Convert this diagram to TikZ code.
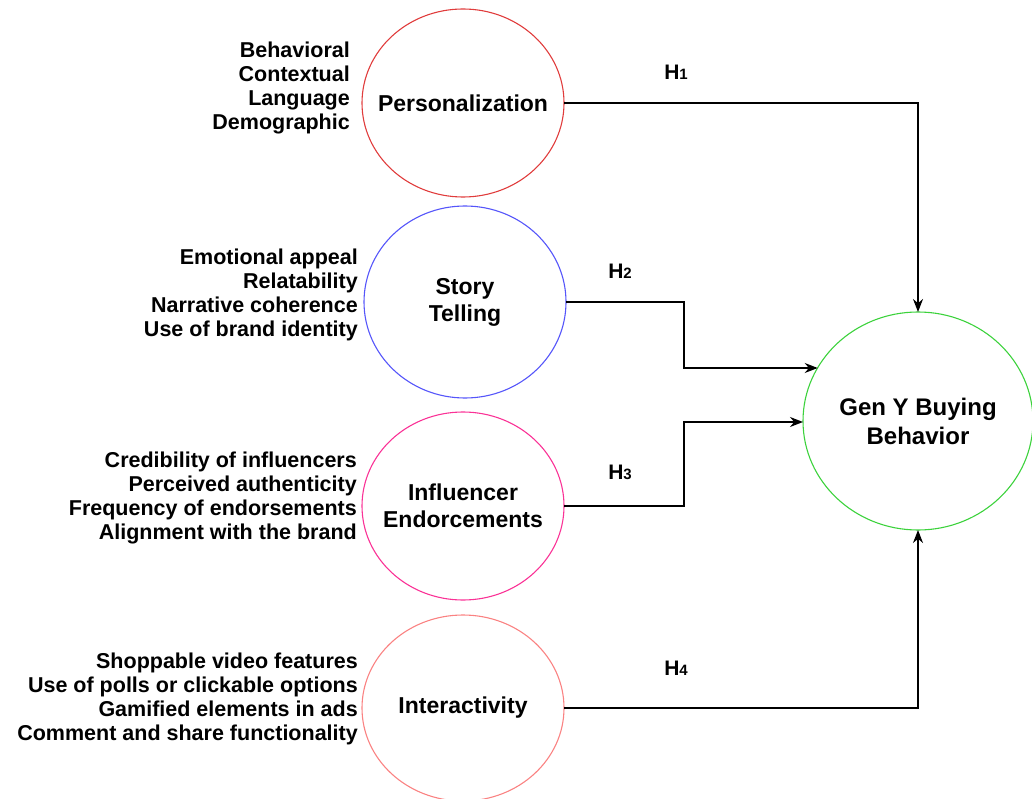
\documentclass[tikz,border=0pt]{standalone}
\usepackage{fontspec}
\setmainfont{Liberation Sans}
\definecolor{persred}{RGB}{224,60,60}
\definecolor{storyblue}{RGB}{85,85,250}
\definecolor{inflpink}{RGB}{250,50,150}
\definecolor{interpink}{RGB}{250,130,130}
\definecolor{gengreen}{RGB}{60,210,60}
\usetikzlibrary{shapes,arrows.meta,positioning,calc}

\begin{document}
\begin{tikzpicture}[x=1pt, y=-1pt,
    construct/.style={ellipse, draw, line width=1.1pt, inner xsep=-30pt, inner ysep=0pt, outer sep=0pt,
        minimum width=202pt, minimum height=188pt, align=center,
        font=\fontsize{23}{27}\selectfont\bfseries},
    items/.style={anchor=east, align=right, inner sep=0pt,
        font=\fontsize{21.5}{24}\selectfont\bfseries},
    hyp/.style={font=\fontsize{21}{21}\selectfont\bfseries},
    link/.style={line width=1.4pt, -{Stealth[length=13pt,width=10pt]}}]
    \useasboundingbox (0,0) rectangle (1032,799);

    % Constructs
    \node[construct, draw=persred] (pers) at (463,103) {Personalization};
    \node[construct, draw=storyblue, minimum height=192pt] (story) at (465,302) {Story\\Telling};
    \node[construct, draw=inflpink] (infl) at (463,506) {Influencer\\Endorcements};
    \node[construct, draw=interpink, minimum height=186pt] (inter) at (463,708) {Interactivity};

    % Outcome
    \node[construct, draw=gengreen, minimum width=230pt, minimum height=218pt,
        font=\fontsize{24}{29}\selectfont\bfseries] (geny) at (918,421) {Gen Y Buying\\Behavior};

    % Indicators
    \node[items] (persitems) at (350,88) {Behavioral\\Contextual\\Language\\Demographic};
    \node[items] (storyitems) at (358,295) {Emotional appeal\\Relatability\\Narrative coherence\\Use of brand identity};
    \node[items] (inflitems) at (357,498) {Credibility of influencers\\Perceived authenticity\\Frequency of endorsements\\Alignment with the brand};
    \node[items] (interitems) at (358,699) {Shoppable video features\\Use of polls or clickable options\\Gamified elements in ads\\Comment and share functionality};

    % Paths
    \coordinate (j2) at (684,368);
    \coordinate (j3) at (684,422);
    \draw[link] (pers.east) -| (geny.north);
    \draw[link] (story.east) -| (j2) -- (j2 -| geny.152);
    \draw[link] (infl.east) -| (j3) -- (j3 -| geny.west);
    \draw[link] (inter.east) -| (geny.south);

    % Hypotheses
    \node[hyp] (h1) at (676,72) {H{\fontsize{15}{15}\selectfont 1}};
    \node[hyp] (h2) at (620,271) {H{\fontsize{15}{15}\selectfont 2}};
    \node[hyp] (h3) at (620,472) {H{\fontsize{15}{15}\selectfont 3}};
    \node[hyp] (h4) at (676,668) {H{\fontsize{15}{15}\selectfont 4}};
\end{tikzpicture}
\end{document}
